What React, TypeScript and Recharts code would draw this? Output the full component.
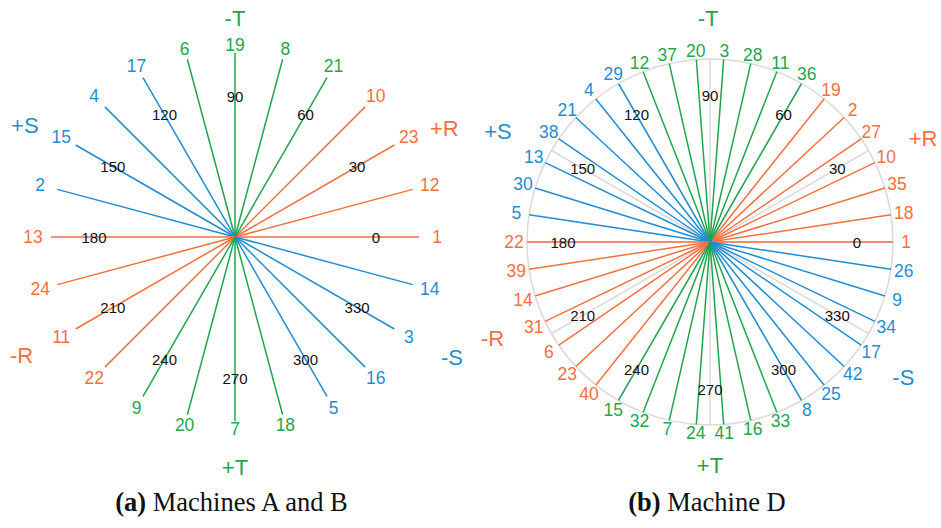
import React from "react";
import { ScatterChart, Scatter, XAxis, YAxis, ReferenceDot } from "recharts";

const ORANGE = "#F4703F";
const GREEN = "#1FA54D";
const BLUE = "#1F8DD2";
const GRID = "#DADADA";
const FONT = "'Liberation Sans', Arial, Helvetica, sans-serif";

// (a) Machines A and B: 24 directions, counter-clockwise from 0 deg
const labelsA = [1, 12, 23, 10, 21, 8, 19, 6, 17, 4, 15, 2, 13, 24, 11, 22, 9, 20, 7, 18, 5, 16, 3, 14];
const axesA = [
  "R", "R", "R", "R", "T", "T", "T", "T", "S", "S", "S", "S",
  "R", "R", "R", "R", "T", "T", "T", "T", "S", "S", "S", "S",
];

// (b) Machine D: 42 directions
const labelsD = [
  1, 18, 35, 10, 27, 2, 19, 36, 11, 28, 3, 20, 37, 12, 29, 4, 21, 38, 13, 30, 5,
  22, 39, 14, 31, 6, 23, 40, 15, 32, 7, 24, 41, 16, 33, 8, 25, 42, 17, 34, 9, 26,
];
const axesD = [
  "R", "R", "R", "R", "R", "R", "R", "T", "T", "T", "T", "T", "T", "T",
  "S", "S", "S", "S", "S", "S", "S", "R", "R", "R", "R", "R", "R", "R",
  "T", "T", "T", "T", "T", "T", "T", "S", "S", "S", "S", "S", "S", "S",
];

const angleTicks = [0, 30, 60, 90, 120, 150, 180, 210, 240, 270, 300, 330];
const dirNames = ["+R", "-T", "+S", "-R", "+T", "-S"];
const dirAxes = ["R", "T", "S", "R", "T", "S"];

const COLOR: Record<string, string> = { R: ORANGE, T: GREEN, S: BLUE };

// layout: [angle, radius] for the axis names
const dirPlaceA = [[27.5, 236], [90, 219], [152, 238], [209, 244], [270, 230], [331, 248]];
const dirPlaceD = [[26, 237], [90.5, 224], [152.5, 239], [204, 238], [270, 223], [325, 236]];

const polar = (deg: number, r: number) => ({
  x: r * Math.cos((deg * Math.PI) / 180),
  y: r * Math.sin((deg * Math.PI) / 180),
});

const noDot = () => <g />;

const textShape = (size: number) => (p: any) => (
  <text
    x={p.cx}
    y={p.cy}
    textAnchor="middle"
    dominantBaseline="central"
    fontSize={size}
    fontFamily={FONT}
    fill={p.payload.color}
  >
    {p.payload.text}
  </text>
);

interface PanelProps {
  labels: number[];
  axes: string[];
  dirPlace: number[][];
  left: number;
  width: number;
  xDomain: [number, number];
  yDomain: [number, number];
  rayLen: number;
  labelR: number;
  labelStretch: number;
  tickR: number;
  circle: boolean;
}

function Panel(props: PanelProps) {
  const { labels, axes, dirPlace, left, width, xDomain, yDomain, rayLen, labelR, labelStretch, tickR, circle } = props;
  const n = labels.length;
  const rays = labels.map((lab, i) => ({ lab, angle: (i * 360) / n, axis: axes[i] }));

  const numData = rays.map((r) => {
    const rr = labelR + labelStretch * Math.abs(Math.cos((r.angle * Math.PI) / 180));
    return { ...polar(r.angle, rr), text: String(r.lab), color: COLOR[r.axis] };
  });
  const tickData = angleTicks.map((a) => ({ ...polar(a, tickR), text: String(a), color: "#111" }));
  const dirData = dirNames.map((d, i) => ({
    ...polar(dirPlace[i][0], dirPlace[i][1]),
    text: d,
    color: COLOR[dirAxes[i]],
  }));

  return (
    <div style={{ position: "absolute", left, top: 0 }}>
      <ScatterChart width={width} height={528} margin={{ top: 0, right: 0, bottom: 0, left: 0 }}>
        <XAxis type="number" dataKey="x" domain={xDomain} allowDataOverflow hide />
        <YAxis type="number" dataKey="y" domain={yDomain} allowDataOverflow hide />
        {circle && (
          <ReferenceDot x={0} y={0} r={rayLen} fill="none" stroke={GRID} strokeWidth={1.5} />
        )}
        {circle &&
          angleTicks.map((a) => (
            <Scatter
              key={"grid" + a}
              data={[{ x: 0, y: 0 }, polar(a, rayLen)]}
              line={{ stroke: GRID, strokeWidth: 1.5 }}
              shape={noDot}
              isAnimationActive={false}
            />
          ))}
        {rays.map((r, i) => (
          <Scatter
            key={"ray" + i}
            data={[{ x: 0, y: 0 }, polar(r.angle, rayLen)]}
            line={{ stroke: COLOR[r.axis], strokeWidth: 1.5 }}
            shape={noDot}
            isAnimationActive={false}
          />
        ))}
        <Scatter data={tickData} shape={textShape(15)} isAnimationActive={false} />
        <Scatter data={numData} shape={textShape(17.5)} isAnimationActive={false} />
        <Scatter data={dirData} shape={textShape(22)} isAnimationActive={false} />
      </ScatterChart>
    </div>
  );
}

const captionStyle: React.CSSProperties = {
  position: "absolute",
  top: 487,
  fontFamily: "'Liberation Serif', 'Times New Roman', serif",
  fontSize: 26.5,
  lineHeight: "30px",
  textAlign: "center",
  color: "#111",
  whiteSpace: "nowrap",
};

export default function App() {
  return (
    <div style={{ position: "absolute", left: 0, top: 0, width: 941, height: 528, background: "#fff", overflow: "hidden" }}>
      <Panel
        labels={labelsA}
        axes={axesA}
        dirPlace={dirPlaceA}
        left={0}
        width={470}
        xDomain={[-235, 235]}
        yDomain={[-291, 237]}
        rayLen={184}
        labelR={192}
        labelStretch={10}
        tickR={141}
        circle={false}
      />
      <Panel
        labels={labelsD}
        axes={axesD}
        dirPlace={dirPlaceD}
        left={470}
        width={471}
        xDomain={[-240, 231]}
        yDomain={[-286, 242]}
        rayLen={183}
        labelR={191}
        labelStretch={5}
        tickR={147}
        circle={true}
      />
      <div style={{ ...captionStyle, left: 0, width: 463 }}>
        <b>(a)</b> Machines A and B
      </div>
      <div style={{ ...captionStyle, left: 470, width: 474 }}>
        <b>(b)</b> Machine D
      </div>
    </div>
  );
}
